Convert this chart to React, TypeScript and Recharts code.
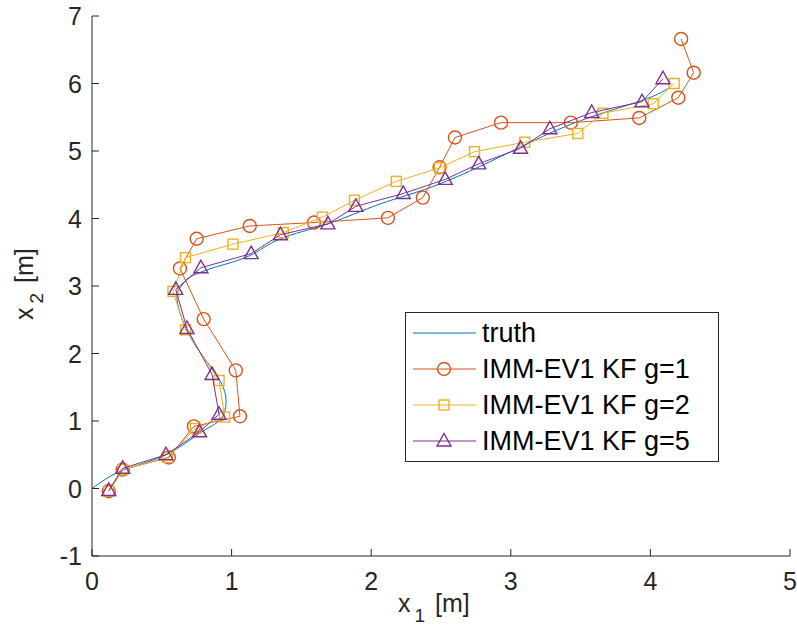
import { ScatterChart, Scatter, XAxis, YAxis, Label } from 'recharts';

const xTicks = [0, 1, 2, 3, 4, 5];
const yTicks = [-1, 0, 1, 2, 3, 4, 5, 6, 7];

const truthX = [0, 0.22, 0.52, 0.78, 0.92, 0.96, 0.94, 0.87, 0.78, 0.68, 0.62, 0.61, 0.64, 0.68, 0.75, 0.9, 1.13, 1.35, 1.69, 2.07, 2.5, 3.05, 3.5, 3.94, 4.13];
const truthY = [0, 0.27, 0.49, 0.83, 1.02, 1.26, 1.5, 1.75, 2.0, 2.34, 2.68, 2.89, 3.0, 3.1, 3.18, 3.29, 3.45, 3.7, 3.92, 4.22, 4.52, 5.04, 5.45, 5.75, 5.93];

const g1X = [0.12, 0.22, 0.55, 0.73, 1.06, 1.03, 0.8, 0.63, 0.75, 1.13, 1.59, 2.12, 2.37, 2.49, 2.6, 2.93, 3.43, 3.92, 4.2, 4.31, 4.22];
const g1Y = [-0.04, 0.28, 0.46, 0.92, 1.07, 1.75, 2.51, 3.26, 3.7, 3.89, 3.94, 4.01, 4.31, 4.76, 5.2, 5.42, 5.42, 5.49, 5.79, 6.16, 6.66];

const g2X = [0.12, 0.22, 0.54, 0.74, 0.95, 0.91, 0.67, 0.58, 0.67, 1.01, 1.37, 1.65, 1.88, 2.18, 2.49, 2.74, 3.1, 3.48, 3.66, 4.02, 4.17];
const g2Y = [-0.04, 0.28, 0.46, 0.89, 1.06, 1.6, 2.35, 2.92, 3.42, 3.62, 3.79, 4.02, 4.27, 4.55, 4.75, 4.99, 5.13, 5.26, 5.56, 5.7, 6.0];

const g5X = [0.12, 0.22, 0.53, 0.77, 0.91, 0.86, 0.68, 0.6, 0.78, 1.14, 1.35, 1.69, 1.89, 2.23, 2.53, 2.77, 3.07, 3.28, 3.58, 3.94, 4.09];
const g5Y = [-0.03, 0.3, 0.5, 0.84, 1.1, 1.69, 2.37, 2.95, 3.27, 3.48, 3.76, 3.92, 4.18, 4.37, 4.58, 4.81, 5.04, 5.33, 5.57, 5.73, 6.07];

const seriesNames = ['truth', 'IMM-EV1 KF g=1', 'IMM-EV1 KF g=2', 'IMM-EV1 KF g=5'];
const seriesColors = ['#0072BD', '#D95319', '#EDB120', '#7E2F8E'];
const seriesMarkers = ['none', 'circle', 'square', 'triangle'];

const toPoints = (xs: number[], ys: number[]) => xs.map((x, i) => ({ x, y: ys[i] }));

const seriesData = [
  toPoints(truthX, truthY),
  toPoints(g1X, g1Y),
  toPoints(g2X, g2Y),
  toPoints(g5X, g5Y),
];

const FONT = '"Liberation Sans", Arial, Helvetica, sans-serif';
const AXIS = '#262626';

const Marker = ({ kind, cx, cy, color }: { kind: string; cx: number; cy: number; color: string }) => {
  if (kind === 'circle') {
    return <circle cx={cx} cy={cy} r={6.5} fill="none" stroke={color} strokeWidth={1.4} />;
  }
  if (kind === 'square') {
    return <rect x={cx - 5} y={cy - 5} width={10} height={10} fill="none" stroke={color} strokeWidth={1.4} />;
  }
  if (kind === 'triangle') {
    return (
      <polygon
        points={`${cx},${cy - 7.5} ${cx + 7},${cy + 5} ${cx - 7},${cy + 5}`}
        fill="none"
        stroke={color}
        strokeWidth={1.4}
      />
    );
  }
  return <g />;
};

const makeShape = (kind: string, color: string) => (props: any) =>
  <Marker kind={kind} cx={props.cx} cy={props.cy} color={color} />;

const BottomTick = (props: any) => {
  const { x, y, payload } = props;
  return (
    <g>
      <line x1={x} y1={y} x2={x} y2={y - 7} stroke={AXIS} strokeWidth={1} />
      <text x={x} y={y + 34} textAnchor="middle" fill={AXIS} fontSize={25} fontFamily={FONT}>
        {payload.value}
      </text>
    </g>
  );
};

const TopTick = (props: any) => {
  const { x, y } = props;
  return <line x1={x} y1={y} x2={x} y2={y + 7} stroke={AXIS} strokeWidth={1} />;
};

const LeftTick = (props: any) => {
  const { x, y, payload } = props;
  return (
    <g>
      <line x1={x} y1={y} x2={x + 7} y2={y} stroke={AXIS} strokeWidth={1} />
      <text x={x - 10} y={y + 9} textAnchor="end" fill={AXIS} fontSize={25} fontFamily={FONT}>
        {payload.value}
      </text>
    </g>
  );
};

const RightTick = (props: any) => {
  const { x, y } = props;
  return <line x1={x} y1={y} x2={x - 7} y2={y} stroke={AXIS} strokeWidth={1} />;
};

const XTitle = (props: any) => {
  const { x, width, y } = props.viewBox;
  return (
    <text x={x + width / 2 - 43} y={y + 56} fill={AXIS} fontSize={25} fontFamily={FONT}>
      <tspan>x</tspan>
      <tspan dx={4} dy={10} fontSize={19}>1</tspan>
      <tspan dx={3} dy={-10}> [m]</tspan>
    </text>
  );
};

const YTitle = (props: any) => {
  const { y, height } = props.viewBox;
  const cy = y + height / 2 + 34;
  return (
    <text x={33} y={cy} transform={`rotate(-90, 33, ${cy})`} fill={AXIS} fontSize={25} fontFamily={FONT}>
      <tspan>x</tspan>
      <tspan dx={4} dy={10} fontSize={19}>2</tspan>
      <tspan dx={3} dy={-10}> [m]</tspan>
    </text>
  );
};

const LegendBox = () => (
  <div
    style={{
      position: 'absolute',
      left: 405,
      top: 312,
      width: 312,
      height: 148,
      border: `1px solid ${AXIS}`,
      background: '#fff',
      fontFamily: FONT,
      fontSize: 27,
      color: '#000',
    }}
  >
    {seriesNames.map((name, i) => (
      <div
        key={name}
        style={{ position: 'absolute', left: 0, top: 2 + i * 36, height: 36, display: 'flex', alignItems: 'center' }}
      >
        <svg width={76} height={36} style={{ display: 'block' }}>
          <line x1={7} y1={18} x2={70} y2={18} stroke={seriesColors[i]} strokeWidth={1} />
          <Marker kind={seriesMarkers[i]} cx={38} cy={18} color={seriesColors[i]} />
        </svg>
        <span style={{ whiteSpace: 'nowrap', lineHeight: '36px' }}>{name}</span>
      </div>
    ))}
  </div>
);

export default function App() {
  return (
    <div style={{ position: 'absolute', left: 0, top: 0, width: 797, height: 635, background: '#fff' }}>
      <ScatterChart width={797} height={635} margin={{ top: 16, right: 7, bottom: 0, left: 0 }}>
        <XAxis
          type="number"
          dataKey="x"
          domain={[0, 5]}
          ticks={xTicks}
          allowDataOverflow
          height={79}
          tickSize={0}
          tickMargin={0}
          tickLine={false}
          axisLine={{ stroke: AXIS, strokeWidth: 1 }}
          tick={<BottomTick />}
          interval={0}
        >
          <Label content={<XTitle />} />
        </XAxis>
        <XAxis
          xAxisId="top"
          orientation="top"
          type="number"
          dataKey="x"
          domain={[0, 5]}
          ticks={xTicks}
          allowDataOverflow
          height={0}
          tickSize={0}
          tickMargin={0}
          tickLine={false}
          axisLine={{ stroke: AXIS, strokeWidth: 1 }}
          tick={<TopTick />}
          interval={0}
        />
        <YAxis
          type="number"
          dataKey="y"
          domain={[-1, 7]}
          ticks={yTicks}
          allowDataOverflow
          width={92}
          tickSize={0}
          tickMargin={0}
          tickLine={false}
          axisLine={{ stroke: AXIS, strokeWidth: 1 }}
          tick={<LeftTick />}
          interval={0}
        >
          <Label content={<YTitle />} />
        </YAxis>
        <YAxis
          yAxisId="right"
          orientation="right"
          type="number"
          dataKey="y"
          domain={[-1, 7]}
          ticks={yTicks}
          allowDataOverflow
          width={0}
          tickSize={0}
          tickMargin={0}
          tickLine={false}
          axisLine={{ stroke: AXIS, strokeWidth: 1 }}
          tick={<RightTick />}
          interval={0}
        />
        {seriesData.map((pts, i) => (
          <Scatter
            key={seriesNames[i]}
            name={seriesNames[i]}
            data={pts}
            line={{ stroke: seriesColors[i], strokeWidth: 1 }}
            lineJointType={i === 0 ? 'natural' : 'linear'}
            shape={makeShape(seriesMarkers[i], seriesColors[i])}
            isAnimationActive={false}
          />
        ))}
      </ScatterChart>
      <LegendBox />
    </div>
  );
}
